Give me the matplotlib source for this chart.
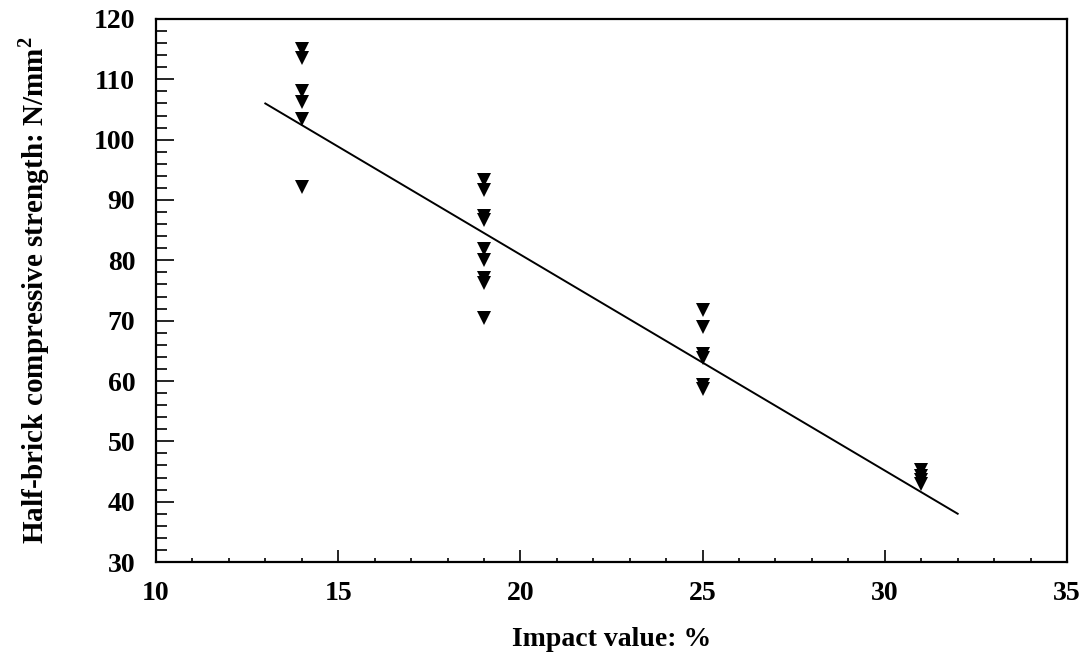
import numpy as np
import matplotlib
matplotlib.use('Agg')
from matplotlib import pyplot as plt
from matplotlib.ticker import MultipleLocator

plt.rcParams['font.family'] = ['Liberation Serif', 'DejaVu Serif']
plt.rcParams['font.weight'] = 'bold'
plt.rcParams['mathtext.fontset'] = 'custom'
plt.rcParams['mathtext.rm'] = 'Liberation Serif:bold'
plt.rcParams['mathtext.bf'] = 'Liberation Serif:bold'

# measured points (impact value %, half-brick strength N/mm2)
impact = [14, 14, 14, 14, 14, 14,
          19, 19, 19, 19, 19, 19, 19, 19, 19,
          25, 25, 25, 25, 25, 25,
          31, 31, 31, 31]
strength = [115.1, 113.5, 108.1, 106.2, 103.5, 92.1,
            93.3, 91.6, 87.4, 86.7, 81.9, 80.0, 77.0, 76.3, 70.5,
            71.8, 68.9, 64.5, 63.8, 59.3, 58.6,
            45.3, 44.2, 43.6, 42.9]

# fitted line end points
fit_x = [13, 32]
fit_y = [106.0, 38.0]

fig = plt.figure(figsize=(10.87, 6.64), dpi=100)
ax = fig.add_axes([0.1435, 0.1536, 0.8381, 0.8178])

ax.plot(fit_x, fit_y, color='black', linewidth=1.4)
ax.plot(impact, strength, linestyle='none', marker='v', markersize=10.5,
        color='black', markeredgewidth=0)

ax.set_xlim(10, 35)
ax.set_ylim(30, 120)
ax.xaxis.set_major_locator(MultipleLocator(5))
ax.xaxis.set_minor_locator(MultipleLocator(1))
ax.yaxis.set_major_locator(MultipleLocator(10))
ax.yaxis.set_minor_locator(MultipleLocator(2))

ax.tick_params(axis='both', which='both', direction='in', width=1.2,
               labelsize=20, colors='black')
ax.tick_params(axis='y', which='major', length=13, pad=15)
ax.tick_params(axis='y', which='minor', length=8)
ax.tick_params(axis='x', which='major', length=9, pad=14)
ax.tick_params(axis='x', which='minor', length=3)
for lab in ax.get_xticklabels() + ax.get_yticklabels():
    lab.set_fontweight('bold')

for s in ax.spines.values():
    s.set_linewidth(1.6)

ax.set_xlabel('Impact value: %', fontsize=20, fontweight='bold', labelpad=15)
ax.set_ylabel('Half-brick compressive strength: N/mm$^\\mathbf{2}$',
              fontsize=21, fontweight='bold', labelpad=30)

fig.savefig('out.png', dpi=100)
